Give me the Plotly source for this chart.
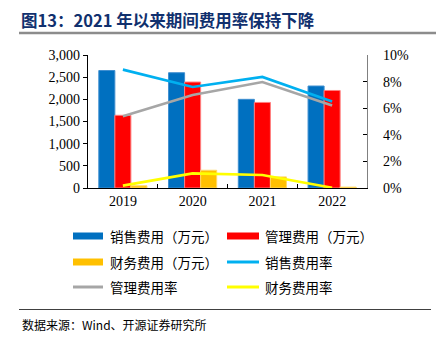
import plotly.graph_objects as go

years = ["2019", "2020", "2021", "2022"]
sales_exp = [2650, 2600, 2000, 2300]
admin_exp = [1640, 2390, 1930, 2200]
fin_exp = [50, 400, 250, 20]
sales_rate = [0.089, 0.076, 0.0835, 0.065]
admin_rate = [0.054, 0.070, 0.0797, 0.062]
fin_rate = [0.0018, 0.011, 0.0098, 0.0002]

bar_names = ["销售费用（万元）", "管理费用（万元）", "财务费用（万元）"]
line_names = ["销售费用率", "管理费用率", "财务费用率"]
bar_colors = ["#0070C0", "#FF0000", "#FFC000"]
bar_edges = ["#3F8FD0", "#FF7F7F", "#FFD966"]
line_colors = ["#00B0F0", "#A6A6A6", "#FFFF00"]

SERIF = "'Liberation Serif', 'Times New Roman', serif"
CJK = "'Noto Sans CJK SC', 'Liberation Serif', serif"

fig = go.Figure()
for name, vals, c, e in zip(bar_names, [sales_exp, admin_exp, fin_exp], bar_colors, bar_edges):
    fig.add_trace(go.Bar(x=years, y=vals, name=name, marker=dict(color=c, line=dict(color=e, width=1)),
                         showlegend=False))
for name, vals, c in zip(line_names, [sales_rate, admin_rate, fin_rate], line_colors):
    fig.add_trace(go.Scatter(x=years, y=vals, name=name, mode="lines", yaxis="y2",
                             line=dict(color=c, width=2.6), showlegend=False))

# manual legend
legend_items = [
    (bar_names[0], "bar", bar_colors[0]), (bar_names[1], "bar", bar_colors[1]),
    (bar_names[2], "bar", bar_colors[2]), (line_names[0], "line", line_colors[0]),
    (line_names[1], "line", line_colors[1]), (line_names[2], "line", line_colors[2]),
]
W, H = 436, 342
ml, mr, mt, mb = 88, 69, 55, 154
pw, ph = W - ml - mr, H - mt - mb

def px(x):
    return (x - ml) / pw

def py(y):
    return (H - mb - y) / ph

shapes = []
annotations = []
rows_y = [236, 262, 287]
cols_x = [(73, 103, 108), (227, 259, 263)]
for i, (name, kind, color) in enumerate(legend_items):
    r, c = divmod(i, 2)
    x0, x1, xt = cols_x[c]
    y = rows_y[r]
    if kind == "bar":
        shapes.append(dict(type="rect", xref="paper", yref="paper", x0=px(x0), x1=px(x1),
                           y0=py(y + 3.5), y1=py(y - 3.5), fillcolor=color, line=dict(width=0)))
    else:
        shapes.append(dict(type="line", xref="paper", yref="paper", x0=px(x0), x1=px(x1),
                           y0=py(y), y1=py(y), line=dict(color=color, width=3)))
    annotations.append(dict(text=name, xref="paper", yref="paper", x=px(xt), y=py(y),
                            xanchor="left", yanchor="middle", showarrow=False,
                            font=dict(family=CJK, size=13.5, color="#000000")))

# title, separators, source
annotations.append(dict(text="<b>图13：2021 年以来期间费用率保持下降</b>", xref="paper", yref="paper",
                        x=px(19), y=py(20), xanchor="left", yanchor="middle", showarrow=False,
                        font=dict(family=CJK, size=16.5, color="#10306E")))
shapes.append(dict(type="line", xref="paper", yref="paper", x0=px(19), x1=px(436), y0=py(33), y1=py(33),
                   line=dict(color="#8C8C8C", width=2.5)))
shapes.append(dict(type="line", xref="paper", yref="paper", x0=px(19), x1=px(431), y0=py(309.5), y1=py(309.5),
                   line=dict(color="#404040", width=1)))
annotations.append(dict(text="数据来源：Wind、开源证券研究所", xref="paper", yref="paper",
                        x=px(20), y=py(324), xanchor="left", yanchor="middle", showarrow=False,
                        font=dict(family=CJK, size=12, color="#000000")))

fig.update_layout(
    width=W, height=H, margin=dict(l=ml, r=mr, t=mt, b=mb),
    paper_bgcolor="white", plot_bgcolor="white",
    barmode="group", bargap=0.31, bargroupgap=0,
    font=dict(family=SERIF, size=14, color="#000000"),
    xaxis=dict(showline=True, linecolor="#000000", linewidth=1.2, ticks="inside", tickson="boundaries",
               ticklen=4, tickcolor="#000000", showgrid=False, tickfont=dict(family=SERIF, size=14)),
    yaxis=dict(range=[0, 3000], dtick=500, tickformat=",", showline=True, linecolor="#000000", linewidth=1.2,
               ticks="outside", ticklen=4, tickcolor="#000000", showgrid=False, zeroline=False,
               tickfont=dict(family=SERIF, size=14)),
    yaxis2=dict(range=[0, 0.10], dtick=0.02, tickformat=".0%", overlaying="y", side="right",
                showline=True, linecolor="#808080", linewidth=1.2, ticks="inside", ticklen=4,
                tickcolor="#000000", showgrid=False, zeroline=False, ticklabelstandoff=12,
                tickfont=dict(family=SERIF, size=14)),
    shapes=shapes, annotations=annotations,
)

fig.write_html("out.html")
